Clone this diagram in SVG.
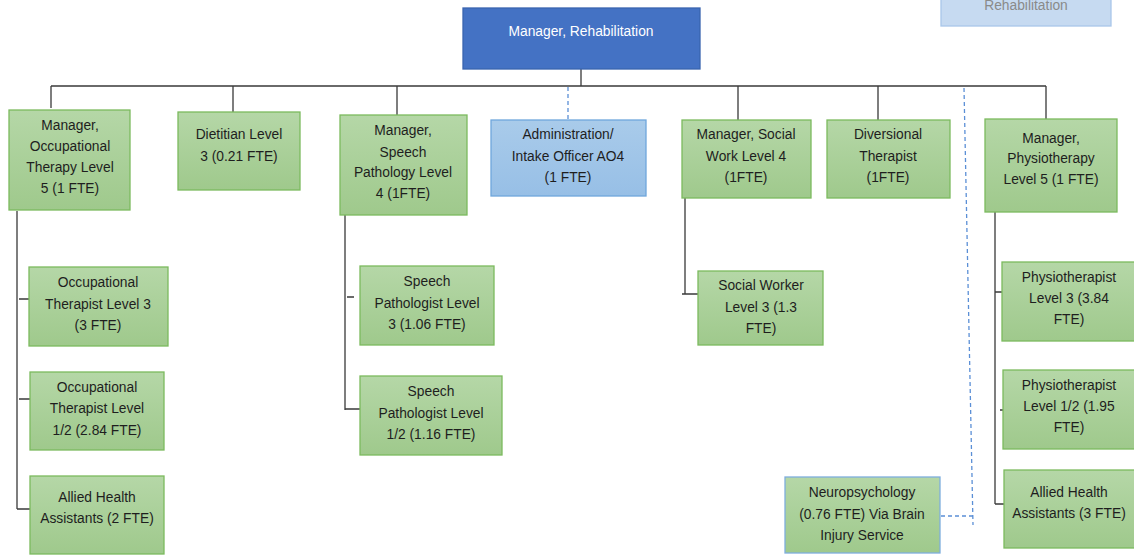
<svg xmlns="http://www.w3.org/2000/svg" width="1134" height="556" viewBox="0 0 1134 556">
<defs>
<linearGradient id="gg" x1="0" y1="0" x2="0" y2="1"><stop offset="0" stop-color="#B5D7A7"/><stop offset="1" stop-color="#9FC98C"/></linearGradient>
<linearGradient id="bg" x1="0" y1="0" x2="0" y2="1"><stop offset="0" stop-color="#A9CBEA"/><stop offset="1" stop-color="#97BFE6"/></linearGradient>
</defs>
<style>
.g{fill:url(#gg);stroke:#7CBA5E;stroke-width:1.3}
.b{fill:url(#bg);stroke:#6FA7DC;stroke-width:1.3}
.n{fill:url(#gg);stroke:#7FAEDD;stroke-width:1.3}
text{font-family:"Liberation Sans",Arial,sans-serif;font-size:13.8px;fill:#1E1E1E;text-anchor:middle;dominant-baseline:middle}
.c{stroke:#3A3A3A;stroke-width:1.3;fill:none}
.d{stroke:#5B8FD6;stroke-width:1.3;fill:none;stroke-dasharray:4 3}
</style>
<g id="connectors">
<path class="c" d="M581 69V86M51 86H1046M51 86V108M233 86V112M397 86V115M738 86V120M878 86V120M1046 86V119"/>
<path class="d" d="M568 87V119M964 88L973 525M941 516H973"/>
<path class="c" d="M17 211V509M19 299H31M19 399H30M17 509H30"/>
<path class="c" d="M345 215V410M347 297H354M345 409H360"/>
<path class="c" d="M685 198V294M682 294H698"/>
<path class="c" d="M995 212V504M995 292H1002M1000 410H1003M995 504H1004"/>
</g>
<g id="top-partial"><rect x="941" y="-30" width="170" height="56" fill="#C6DAF1" stroke="#A9C7EA" stroke-width="1.3"/><text x="1026" y="6" style="fill:#8A8A8A">Rehabilitation</text></g>
<g id="manager-rehab"><rect x="463" y="8" width="237" height="61" fill="#4472C4" stroke="#3A64B0" stroke-width="1.3"/><text x="581" y="32" style="fill:#FFFFFF">Manager, Rehabilitation</text></g>
<g id="ot-manager"><rect class="g" x="9" y="110" width="121" height="100"/><text x="70" y="126">Manager,</text><text x="70" y="147">Occupational</text><text x="70" y="168">Therapy Level</text><text x="70" y="189">5 (1 FTE)</text></g>
<g id="dietitian"><rect class="g" x="178" y="112" width="122" height="78"/><text x="239" y="135">Dietitian Level</text><text x="239" y="157">3 (0.21 FTE)</text></g>
<g id="speech-manager"><rect class="g" x="340" y="115" width="127" height="100"/><text x="403" y="131">Manager,</text><text x="403" y="153">Speech</text><text x="403" y="173">Pathology Level</text><text x="403" y="194">4 (1FTE)</text></g>
<g id="admin"><rect class="b" x="491" y="120" width="155" height="76"/><text x="568" y="135">Administration/</text><text x="568" y="157">Intake Officer AO4</text><text x="568" y="178">(1 FTE)</text></g>
<g id="social-manager"><rect class="g" x="682" y="120" width="129" height="78"/><text x="746" y="135">Manager, Social</text><text x="746" y="157">Work Level 4</text><text x="746" y="178">(1FTE)</text></g>
<g id="diversional"><rect class="g" x="827" y="120" width="123" height="78"/><text x="888" y="135">Diversional</text><text x="888" y="157">Therapist</text><text x="888" y="178">(1FTE)</text></g>
<g id="physio-manager"><rect class="g" x="985" y="119" width="132" height="93"/><text x="1051" y="139">Manager,</text><text x="1051" y="159">Physiotherapy</text><text x="1051" y="180">Level 5 (1 FTE)</text></g>
<g id="ot3"><rect class="g" x="29" y="267" width="139" height="79"/><text x="98" y="283">Occupational</text><text x="98" y="305">Therapist Level 3</text><text x="98" y="326">(3 FTE)</text></g>
<g id="ot12"><rect class="g" x="30" y="372" width="134" height="78"/><text x="97" y="388">Occupational</text><text x="97" y="409">Therapist Level</text><text x="97" y="431">1/2 (2.84 FTE)</text></g>
<g id="ot-aha"><rect class="g" x="30" y="476" width="134" height="78"/><text x="97" y="498">Allied Health</text><text x="97" y="519">Assistants (2 FTE)</text></g>
<g id="sp3"><rect class="g" x="360" y="266" width="134" height="79"/><text x="427" y="282">Speech</text><text x="427" y="304">Pathologist Level</text><text x="427" y="325">3 (1.06 FTE)</text></g>
<g id="sp12"><rect class="g" x="360" y="376" width="142" height="79"/><text x="431" y="392">Speech</text><text x="431" y="414">Pathologist Level</text><text x="431" y="435">1/2 (1.16 FTE)</text></g>
<g id="sw3"><rect class="g" x="698" y="271" width="125" height="74"/><text x="761" y="286">Social Worker</text><text x="761" y="308">Level 3 (1.3</text><text x="761" y="329">FTE)</text></g>
<g id="neuropsych"><rect class="n" x="785" y="477" width="155" height="76"/><text x="862" y="493">Neuropsychology</text><text x="862" y="515">(0.76 FTE) Via Brain</text><text x="862" y="536">Injury Service</text></g>
<g id="pt3"><rect class="g" x="1002" y="262" width="136" height="79"/><text x="1069" y="278">Physiotherapist</text><text x="1069" y="299">Level 3 (3.84</text><text x="1069" y="320">FTE)</text></g>
<g id="pt12"><rect class="g" x="1003" y="370" width="135" height="79"/><text x="1069" y="386">Physiotherapist</text><text x="1069" y="407">Level 1/2 (1.95</text><text x="1069" y="428">FTE)</text></g>
<g id="pt-aha"><rect class="g" x="1004" y="470" width="134" height="78"/><text x="1069" y="493">Allied Health</text><text x="1069" y="514">Assistants (3 FTE)</text></g>
</svg>
